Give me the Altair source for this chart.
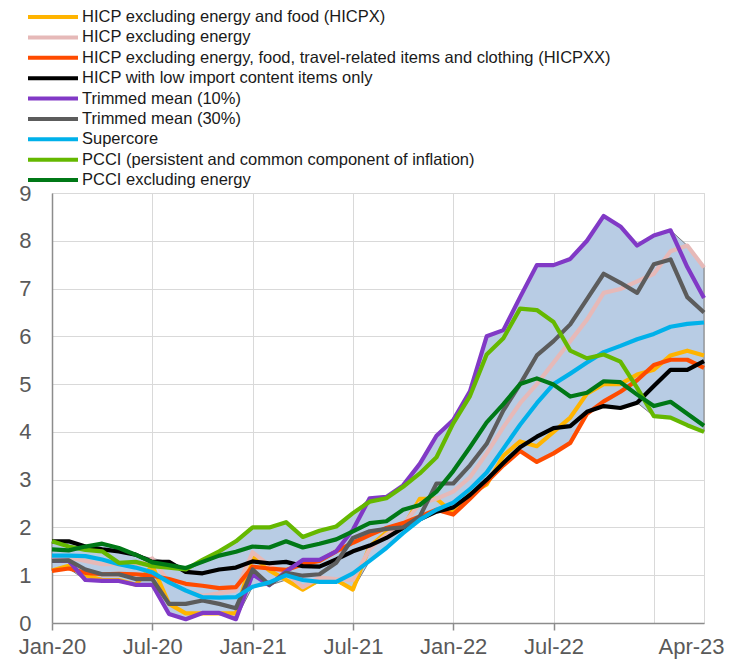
import json
import altair as alt
import pandas as pd

# ---------------- data ----------------
series_names = [
    "HICP excluding energy and food (HICPX)",
    "HICP excluding energy",
    "HICP excluding energy, food, travel-related items and clothing (HICPXX)",
    "HICP with low import content items only",
    "Trimmed mean (10%)",
    "Trimmed mean (30%)",
    "Supercore",
    "PCCI (persistent and common component of inflation)",
    "PCCI excluding energy",
]
colors = ["#FFB400", "#E6B9B8", "#FF4B00", "#000000", "#8139C6",
          "#5C5C5C", "#00B1EA", "#65B800", "#007816"]

months = pd.date_range("2020-01-01", "2023-04-01", freq="MS").strftime("%b-%y").tolist()

hicpx = [1.1, 1.2, 1.0, 0.9, 0.9, 0.8, 1.2, 0.4, 0.2, 0.2, 0.2, 0.2,
         1.4, 1.1, 0.9, 0.7, 0.9, 0.9, 0.7, 1.6, 1.9, 2.0, 2.6, 2.6,
         2.3, 2.7, 2.9, 3.5, 3.8, 3.7, 4.0, 4.3, 4.8, 5.0, 5.0, 5.2,
         5.3, 5.6, 5.7, 5.6]
hicp_ex_energy = [1.33, 1.37, 1.3, 1.23, 1.23, 1.19, 1.35, 0.85, 0.68, 0.57, 0.62, 0.68,
                  1.48, 1.2, 1.05, 0.75, 0.95, 0.92, 0.9, 1.55, 1.85, 2.05, 2.5, 2.6,
                  2.75, 3.05, 3.55, 4.1, 4.6, 5.0, 5.45, 5.9, 6.35, 6.91, 6.99, 7.15,
                  7.31, 7.78, 7.9, 7.44]
hicpxx = [1.09, 1.14, 1.05, 1.02, 1.03, 1.02, 0.99, 0.92, 0.82, 0.78, 0.73, 0.75,
          1.18, 1.14, 1.11, 1.23, 1.3, 1.5, 1.68, 1.84, 1.99, 2.09, 2.23, 2.37,
          2.27, 2.6, 2.95, 3.3, 3.6, 3.37, 3.55, 3.77, 4.38, 4.64, 4.84, 5.08,
          5.4, 5.51, 5.51, 5.34]
low_import = [1.71, 1.71, 1.6, 1.54, 1.5, 1.43, 1.28, 1.28, 1.07, 1.04, 1.12, 1.16,
              1.29, 1.25, 1.28, 1.19, 1.18, 1.33, 1.5, 1.62, 1.78, 1.99, 2.17, 2.33,
              2.42, 2.68, 3.0, 3.35, 3.68, 3.9, 4.08, 4.12, 4.42, 4.54, 4.5, 4.61,
              4.96, 5.3, 5.3, 5.48]
trimmed10 = [1.3, 1.3, 0.9, 0.88, 0.88, 0.8, 0.8, 0.19, 0.08, 0.21, 0.21, 0.08,
             1.02, 0.79, 1.08, 1.32, 1.32, 1.5, 1.95, 2.61, 2.64, 2.88, 3.33, 3.92,
             4.25, 4.85, 6.0, 6.13, 6.82, 7.49, 7.49, 7.62, 8.0, 8.52, 8.3, 7.9,
             8.11, 8.22, 7.45, 6.8]
trimmed30 = [1.3, 1.31, 1.12, 1.02, 1.02, 0.92, 0.92, 0.4, 0.4, 0.47, 0.4, 0.31,
             1.12, 0.8, 1.05, 0.99, 1.02, 1.26, 1.78, 1.92, 1.97, 2.0, 2.23, 2.92,
             2.92, 3.3, 3.75, 4.45, 5.0, 5.6, 5.9, 6.25, 6.78, 7.31, 7.12, 6.91,
             7.51, 7.61, 6.82, 6.5]
supercore = [1.41, 1.41, 1.4, 1.33, 1.23, 1.16, 1.06, 0.85, 0.68, 0.54, 0.53, 0.54,
             0.76, 0.85, 1.0, 0.9, 0.86, 0.86, 1.04, 1.3, 1.57, 1.88, 2.16, 2.37,
             2.52, 2.8, 3.15, 3.65, 4.15, 4.6, 5.0, 5.22, 5.45, 5.67, 5.8, 5.94,
             6.05, 6.2, 6.26, 6.29]
pcci = [1.71, 1.6, 1.53, 1.5, 1.26, 1.28, 1.19, 1.16, 1.12, 1.32, 1.5, 1.71,
        2.0, 2.0, 2.11, 1.8, 1.93, 2.02, 2.3, 2.54, 2.61, 2.85, 3.13, 3.47,
        4.18, 4.75, 5.62, 5.96, 6.58, 6.55, 6.3, 5.7, 5.54, 5.62, 5.47, 4.92,
        4.33, 4.3, 4.14, 4.0]
pcci_ex_energy = [1.54, 1.52, 1.6, 1.66, 1.57, 1.43, 1.27, 1.21, 1.15, 1.28, 1.41, 1.49,
                  1.6, 1.58, 1.71, 1.58, 1.66, 1.75, 1.92, 2.09, 2.13, 2.37, 2.47, 2.75,
                  3.18, 3.68, 4.2, 4.58, 5.0, 5.12, 4.99, 4.74, 4.82, 5.06, 5.04, 4.78,
                  4.54, 4.63, 4.38, 4.13]

all_series = [hicpx, hicp_ex_energy, hicpxx, low_import, trimmed10,
              trimmed30, supercore, pcci, pcci_ex_energy]

x_tick_values = [0, 6, 12, 18, 24, 30, 36, 39]

rows = []
for name, vals in zip(series_names, all_series):
    for i, v in enumerate(vals):
        rows.append({"m": i, "label": months[i], "name": name, "value": v})
df = pd.DataFrame(rows)
leg_df = pd.DataFrame({"name": series_names})

# ---------------- styling ----------------
FONT = "Liberation Sans"
GRID = "#D9D9D9"
AXIS = "#8C8C8C"
LABEL = "#595959"

label_expr = "datum.value == 36 ? '' : " + json.dumps(months) + "[datum.value]"

x_axis = alt.Axis(
    values=x_tick_values, labelExpr=label_expr, grid=True, gridColor=GRID,
    domainColor=AXIS, domainWidth=1.5, tickColor=AXIS, tickWidth=1.5, tickSize=7,
    tickOpacity=alt.condition("datum.value >= 36", alt.value(0), alt.value(1)),
    labelOffset=alt.condition("datum.value == 39", alt.value(-13), alt.value(0)),
    labelFont=FONT, labelFontSize=22, labelColor=LABEL, labelPadding=6,
    labelFlush=False, labelOverlap=False, title=None,
)
y_axis = alt.Axis(
    values=list(range(10)), grid=True, gridColor=GRID, domainColor=AXIS,
    domainWidth=1.5, ticks=False, labelFont=FONT, labelFontSize=22,
    labelColor=LABEL, labelPadding=21, title=None,
)

X = alt.X("m:Q", scale=alt.Scale(domain=[0, 39], nice=False, zero=False), axis=x_axis, title=None)
y_scale = alt.Scale(domain=[0, 9], nice=False, zero=True)

area = (
    alt.Chart(df)
    .transform_aggregate(lo="min(value)", hi="max(value)", groupby=["m"])
    .mark_area(color="#B8CCE4", opacity=1, stroke="#7F7F7F", strokeWidth=1)
    .encode(x=X, y=alt.Y("lo:Q", scale=y_scale, axis=y_axis, title=None), y2="hi:Q")
)

lines = []
for name, col in zip(series_names, colors):
    lines.append(
        alt.Chart(df)
        .transform_filter(alt.datum.name == name)
        .mark_line(color=col, strokeWidth=4.2, strokeJoin="round", strokeCap="butt")
        .encode(x=X, y=alt.Y("value:Q", scale=y_scale, axis=y_axis, title=None))
    )

main = alt.layer(area, *lines)

ly = alt.Y("name:N", scale=alt.Scale(type="point", domain=series_names,
                                      range=[-176, -13], padding=0), axis=None)
leg_rules = alt.Chart(leg_df).mark_rule(strokeWidth=4).encode(
    x=alt.value(-24), x2=alt.value(26), y=ly,
    color=alt.Color("name:N", scale=alt.Scale(domain=series_names, range=colors), legend=None),
)
leg_text = alt.Chart(leg_df).mark_text(
    align="left", baseline="middle", font=FONT, fontSize=16.5, color="#1A1A1A"
).encode(x=alt.value(30), y=ly, text="name:N")
legend = alt.layer(leg_rules, leg_text)

chart = (
    alt.layer(main, legend)
    .resolve_scale(y="independent", color="independent")
    .properties(
        width=652, height=430,
        padding={"left": 44, "top": 185, "right": 27, "bottom": 39},
        autosize=alt.AutoSizeParams(type="none"),
        background="white",
    )
    .configure(font=FONT)
    .configure_view(stroke=GRID, strokeWidth=1)
)

chart.save("out.html", embed_options={"renderer": "svg", "actions": False})
